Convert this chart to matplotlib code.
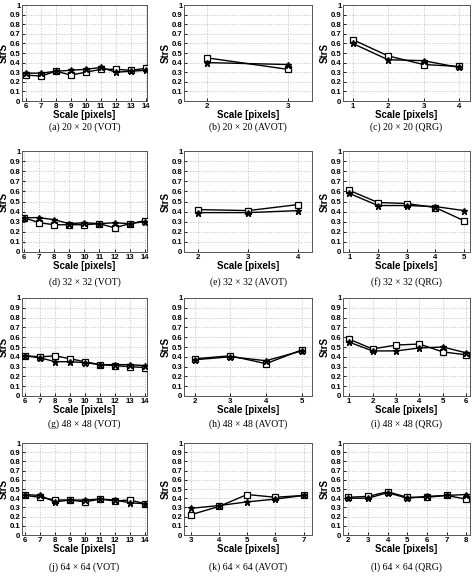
import matplotlib.pyplot as plt
import numpy as np

# x values (scale in pixels) per panel
x_a = [6, 7, 8, 9, 10, 11, 12, 13, 14]
x_b = [2, 3]
x_c = [1, 2, 3, 4]
x_d = [6, 7, 8, 9, 10, 11, 12, 13, 14]
x_e = [2, 3, 4]
x_f = [1, 2, 3, 4, 5]
x_g = [6, 7, 8, 9, 10, 11, 12, 13, 14]
x_h = [2, 3, 4, 5]
x_i = [1, 2, 3, 4, 5, 6]
x_j = [6, 7, 8, 9, 10, 11, 12, 13, 14]
x_k = [3, 4, 5, 6, 7]
x_l = [2, 3, 4, 5, 6, 7, 8]

# square-marker series
sq_a = [0.27, 0.26, 0.31, 0.27, 0.30, 0.33, 0.33, 0.32, 0.34]
sq_b = [0.45, 0.33]
sq_c = [0.64, 0.47, 0.38, 0.36]
sq_d = [0.34, 0.29, 0.27, 0.27, 0.27, 0.28, 0.24, 0.28, 0.31]
sq_e = [0.42, 0.41, 0.47]
sq_f = [0.61, 0.49, 0.48, 0.44, 0.31]
sq_g = [0.41, 0.40, 0.41, 0.38, 0.35, 0.32, 0.31, 0.30, 0.29]
sq_h = [0.38, 0.41, 0.33, 0.47]
sq_i = [0.58, 0.48, 0.52, 0.53, 0.45, 0.42]
sq_j = [0.43, 0.41, 0.38, 0.38, 0.36, 0.39, 0.37, 0.38, 0.34]
sq_k = [0.22, 0.31, 0.44, 0.41, 0.43]
sq_l = [0.41, 0.42, 0.47, 0.41, 0.41, 0.43, 0.39]

# star-marker series
st_a = [0.29, 0.29, 0.31, 0.32, 0.33, 0.35, 0.30, 0.31, 0.32]
st_b = [0.40, 0.38]
st_c = [0.60, 0.43, 0.42, 0.35]
st_d = [0.34, 0.34, 0.32, 0.28, 0.29, 0.28, 0.29, 0.28, 0.30]
st_e = [0.39, 0.39, 0.41]
st_f = [0.58, 0.46, 0.46, 0.45, 0.41]
st_g = [0.41, 0.39, 0.35, 0.35, 0.34, 0.32, 0.32, 0.32, 0.31]
st_h = [0.37, 0.40, 0.36, 0.46]
st_i = [0.55, 0.46, 0.46, 0.49, 0.50, 0.44]
st_j = [0.44, 0.43, 0.36, 0.38, 0.38, 0.39, 0.38, 0.35, 0.34]
st_k = [0.29, 0.32, 0.36, 0.39, 0.43]
st_l = [0.40, 0.40, 0.46, 0.40, 0.42, 0.43, 0.44]

captions = [
    "(a) 20 × 20 (VOT)", "(b) 20 × 20 (AVOT)", "(c) 20 × 20 (QRG)",
    "(d) 32 × 32 (VOT)", "(e) 32 × 32 (AVOT)", "(f) 32 × 32 (QRG)",
    "(g) 48 × 48 (VOT)", "(h) 48 × 48 (AVOT)", "(i) 48 × 48 (QRG)",
    "(j) 64 × 64 (VOT)", "(k) 64 × 64 (AVOT)", "(l) 64 × 64 (QRG)",
]

xs = [x_a, x_b, x_c, x_d, x_e, x_f, x_g, x_h, x_i, x_j, x_k, x_l]
sqs = [sq_a, sq_b, sq_c, sq_d, sq_e, sq_f, sq_g, sq_h, sq_i, sq_j, sq_k, sq_l]
sts = [st_a, st_b, st_c, st_d, st_e, st_f, st_g, st_h, st_i, st_j, st_k, st_l]

# x-axis padding (left, right) per panel
xpads = [(0.27, 0.08), (0.28, 0.3), (0.27, 0.31),
         (0.13, 0.15), (0.28, 0.27), (0.22, 0.21),
         (0.2, 0.13), (0.3, 0.29), (0.26, 0.16),
         (0.2, 0.13), (0.24, 0.3), (0.27, 0.19)]

W, H = 473, 580
fig = plt.figure(figsize=(W / 100, H / 100), dpi=100)

col_lr = [(22, 147), (184, 312), (343, 470)]
row_tb = [(5, 101), (151, 252), (298, 396), (443, 535)]
cap_y = [127, 282, 424, 567]

sans = "Liberation Sans"
tick_font = dict(fontsize=5.6, fontweight="bold", family=sans)

for i in range(12):
    r, c = divmod(i, 3)
    l, rr = col_lr[c]
    t, b = row_tb[r]
    ax = fig.add_axes([l / W, 1 - b / H, (rr - l) / W, (b - t) / H])
    x = xs[i]
    ax.plot(x, sqs[i], color="black", lw=1.0, marker="s", ms=4.5,
            mfc="white", mec="black", mew=0.9, zorder=3)
    ax.plot(x, sts[i], color="black", lw=1.0, marker="*", ms=4.5,
            mfc="black", mec="black", zorder=4)
    ax.set_xlim(x[0] - xpads[i][0], x[-1] + xpads[i][1])
    ax.set_ylim(0, 1)
    ax.set_xticks(x)
    ax.set_yticks(np.arange(0, 1.01, 0.1))
    ax.set_yticklabels(["0", "0.1", "0.2", "0.3", "0.4", "0.5", "0.6",
                        "0.7", "0.8", "0.9", "1"], **tick_font)
    ax.set_xticklabels([str(v) for v in x], **tick_font)
    ax.grid(True, ls=(0, (2, 2)), color="#bbbbbb", lw=0.5)
    ax.tick_params(length=2, width=0.6, pad=1.2, direction="in")
    for s in ax.spines.values():
        s.set_linewidth(0.7)
        s.set_color("#555555")
    ax.set_xlabel("Scale [pixels]", fontsize=7, fontweight="bold",
                  family=sans, labelpad=0.5)
    ax.set_ylabel("StrS", fontsize=7, fontweight="bold", family=sans)
    ax.yaxis.set_label_coords(-13.5 / (rr - l), 0.5)
    fig.text((l + rr) / 2 / W, 1 - cap_y[r] / H, captions[i], ha="center",
             va="center", fontsize=7, family="Liberation Serif")

fig.savefig("out.png", dpi=100)
